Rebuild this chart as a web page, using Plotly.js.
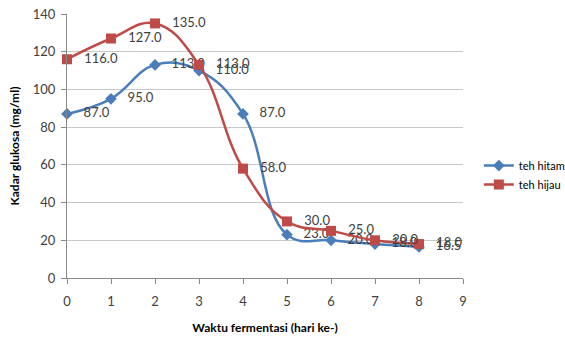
<!DOCTYPE html>
<html>
<head>
<meta charset="utf-8">
<script src="https://cdn.plot.ly/plotly-3.0.1.min.js"></script>
<style>html,body{margin:0;padding:0;background:#fff;overflow:hidden;}#chart{width:565px;height:342px;}</style>
</head>
<body>
<div id="chart"></div>
<script>
const days = [0, 1, 2, 3, 4, 5, 6, 7, 8];
const tehHitam = [87, 95, 113, 110, 87, 23, 20, 18, 16.5];
const tehHijau = [116, 127, 135, 113, 58, 30, 25, 20, 18];
const seriesNames = ["teh hitam", "teh hijau"];
const xTicks = [0, 1, 2, 3, 4, 5, 6, 7, 8, 9];
const yTicks = [0, 20, 40, 60, 80, 100, 120, 140];

const fontFam = "Lato, 'Open Sans', sans-serif";
const traces = [
  {
    x: days, y: tehHitam, name: seriesNames[0], type: "scatter", mode: "lines+markers+text",
    line: {shape: "spline", smoothing: 1.2, color: "#4A7EBB", width: 2.5},
    marker: {symbol: "diamond", size: 9, color: "#4A7EBB"},
    texttemplate: "   %{y:.1f}", textposition: "middle right",
    textfont: {family: fontFam, size: 13, color: "#404040"}, cliponaxis: false
  },
  {
    x: days, y: tehHijau, name: seriesNames[1], type: "scatter", mode: "lines+markers+text",
    line: {shape: "spline", smoothing: 1.2, color: "#BE4B48", width: 2.5},
    marker: {symbol: "square", size: 10, color: "#BE4B48"},
    texttemplate: "   %{y:.1f}", textposition: "middle right",
    textfont: {family: fontFam, size: 13, color: "#404040"}, cliponaxis: false
  }
];
const layout = {
  width: 565, height: 342,
  margin: {l: 67, r: 102, t: 14, b: 64, autoexpand: false},
  paper_bgcolor: "#fff", plot_bgcolor: "#fff",
  font: {family: fontFam, size: 13, color: "#404040"},
  showlegend: true,
  legend: {x: 1.04, y: 0.39, xanchor: "left", yanchor: "middle", font: {size: 11, color: "#000"}, tracegroupgap: 6},
  xaxis: {
    range: [0, 9], tickvals: xTicks, ticks: "outside", ticklen: 5, tickcolor: "#888",
    showline: true, linecolor: "#888", linewidth: 1, showgrid: false, zeroline: false,
    ticklabelstandoff: 6,
    tickfont: {size: 13, color: "#404040"},
    title: {text: "<b>Waktu fermentasi (hari ke-)</b>", font: {size: 12, color: "#000"}, standoff: 16}
  },
  yaxis: {
    range: [0, 140], tickvals: yTicks, ticks: "outside", ticklen: 5, tickcolor: "#888",
    showline: true, linecolor: "#888", linewidth: 1, showgrid: true, gridcolor: "#C8C8C8", gridwidth: 1, zeroline: false,
    ticklabelstandoff: 3,
    tickfont: {size: 13, color: "#404040"},
    title: {text: "<b>Kadar glukosa (mg/ml)</b>", font: {size: 12, color: "#000"}, standoff: 10}
  }
};
Plotly.newPlot("chart", traces, layout, {displayModeBar: false, staticPlot: true});
</script>
</body>
</html>
